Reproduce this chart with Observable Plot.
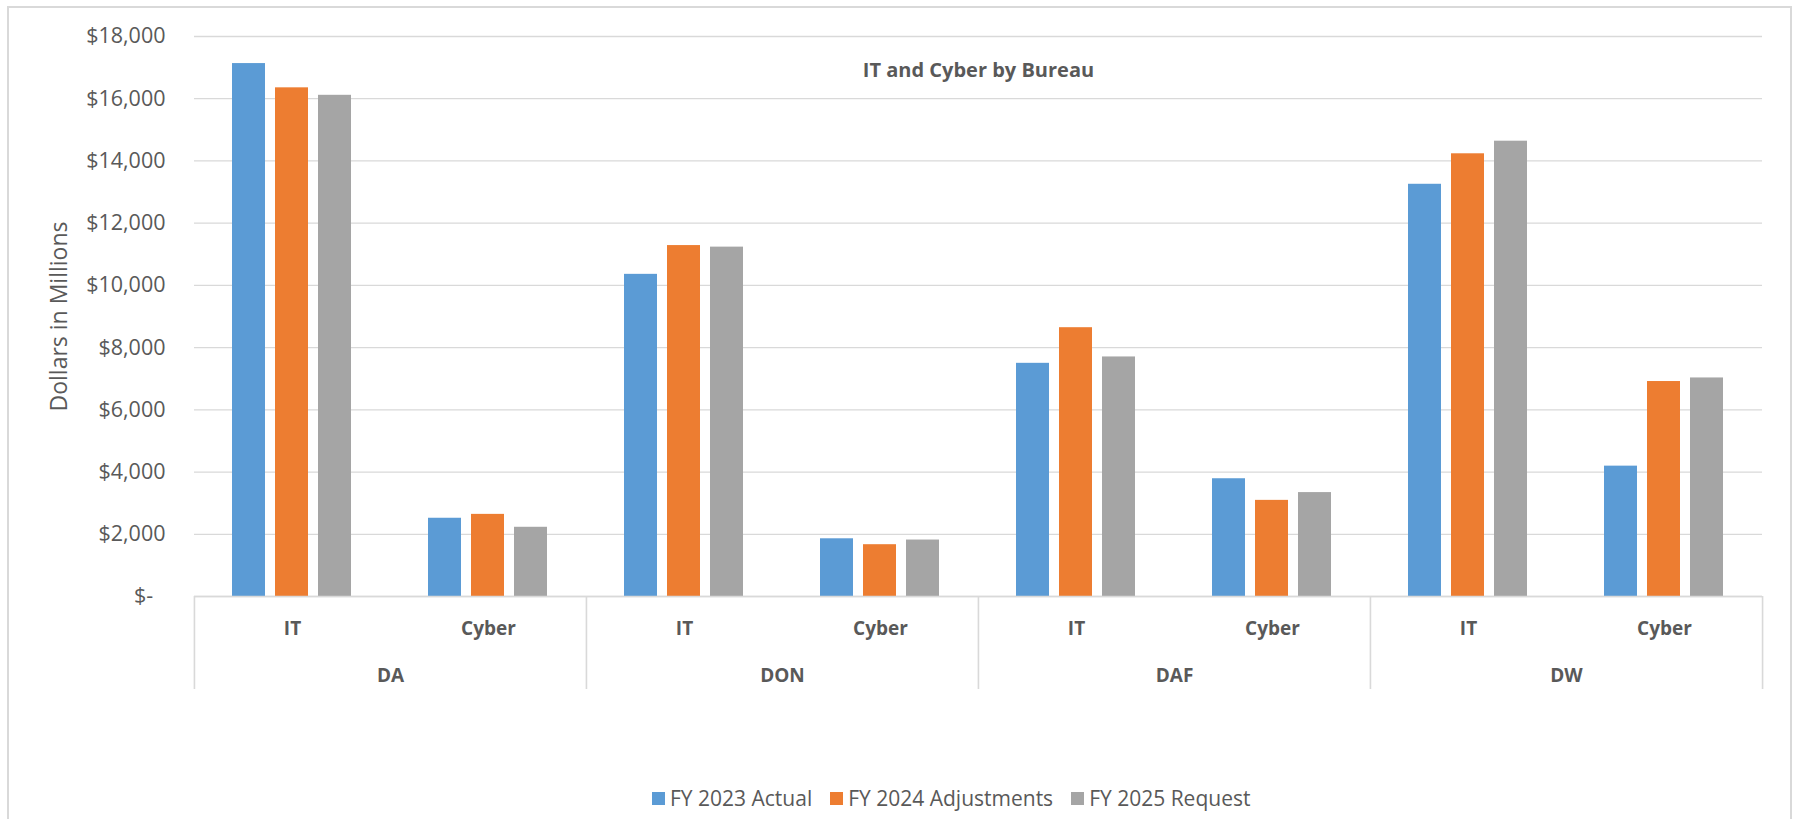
<!DOCTYPE html>
<html>
<head>
<meta charset="utf-8">
<script src="https://cdn.jsdelivr.net/npm/d3@7"></script>
<script src="https://cdn.jsdelivr.net/npm/@observablehq/plot@0.6"></script>
<style>
  html, body { margin: 0; padding: 0; background: #fff; }
  body { width: 1794px; height: 819px; overflow: hidden; position: relative; font-family: "Open Sans", sans-serif; }
  #border { position: absolute; left: 7px; top: 6px; width: 1781px; height: 900px; border: 2px solid #D9D9D9; pointer-events: none; }
  #chart svg { display: block; }
  #legend { display: flex; align-items: center; height: 36px; padding-left: 652px; color: #595959; font-size: 21px; }
  #legend .item { display: flex; align-items: center; margin-right: 18px; }
  #legend .sw { width: 13px; height: 13px; margin-right: 5px; }
</style>
</head>
<body>
<div id="chart"></div>
<div id="legend"></div>
<div id="border"></div>
<script>
// ---- data ----
const bureaus = ["DA", "DON", "DAF", "DW"];
const subs = ["IT", "Cyber"];
const series = ["FY 2023 Actual", "FY 2024 Adjustments", "FY 2025 Request"];
const colors = ["#5B9BD5", "#ED7D31", "#A5A5A5"];
// order: DA IT, DA Cyber, DON IT, DON Cyber, DAF IT, DAF Cyber, DW IT, DW Cyber
const fy2023 = [17130, 2515, 10355, 1855, 7495, 3785, 13250, 4190];
const fy2024 = [16350, 2640, 11280, 1665, 8640, 3090, 14230, 6910];
const fy2025 = [16110, 2225, 11230, 1815, 7700, 3340, 14635, 7025];
const yTicks = [0, 2000, 4000, 6000, 8000, 10000, 12000, 14000, 16000, 18000];
const chartTitle = "IT and Cyber by Bureau";
const yLabel = "Dollars in Millions";

// ---- layout ----
const W = 1794, H = 780;
const mL = 193, mR = 32, mT = 36, mB = 184;
const frameH = H - mT - mB;
const keys = bureaus.flatMap(b => subs.map(s => b + " " + s));
const facetW = (W - mL - mR) / keys.length;
const seriesValues = [fy2023, fy2024, fy2025];

const rows = [];
keys.forEach((k, i) => series.forEach((s, j) =>
  rows.push({key: k, bureau: bureaus[Math.floor(i / 2)], sub: subs[i % 2], series: s, value: seriesValues[j][i]})));
const catRows = keys.map((k, i) => ({key: k, sub: subs[i % 2], bureau: bureaus[Math.floor(i / 2)]}));
const itRows = catRows.filter(d => d.sub === subs[0]);
const lastRow = [catRows[catRows.length - 1]];

const fmt = d3.format(",");
const tickFormat = d => d === 0 ? "$-\u2007" : "$" + fmt(d);
const textColor = "#595959";
const gridColor = "#D9D9D9";

const chart = Plot.plot({
  width: W, height: H,
  marginLeft: mL, marginRight: mR, marginTop: mT, marginBottom: mB,
  style: {fontFamily: "'Open Sans', sans-serif", color: textColor, background: "transparent", overflow: "visible"},
  fx: {domain: keys, padding: 0, axis: null},
  x: {domain: series, paddingInner: 0.2273, paddingOuter: 0.841, axis: null},
  y: {domain: [0, 18000], axis: null},
  color: {domain: series, range: colors},
  marks: [
    Plot.ruleY(yTicks, {stroke: gridColor, strokeWidth: 1.3}),
    Plot.barY(rows, {fx: "key", x: "series", y: "value", fill: "series"}),
    Plot.ruleY([0], {stroke: gridColor, strokeWidth: 1.6}),
    Plot.axisY(yTicks, {tickSize: 0, tickPadding: 29, tickFormat, fontSize: 21.5, label: null, fill: textColor}),
    Plot.text([{key: keys[0], t: yLabel}], {fx: "key", text: "t", frameAnchor: "left", rotate: -90, dx: -135, fontSize: 23, fill: textColor, textAnchor: "middle", lineAnchor: "middle"}),
    Plot.text([{key: keys[4], t: chartTitle}], {fx: "key", text: "t", frameAnchor: "top-left", textAnchor: "middle", lineAnchor: "middle", dy: 34, fontSize: 20, fontWeight: "bold", fill: textColor}),
    Plot.text(catRows, {fx: "key", text: "sub", frameAnchor: "bottom", textAnchor: "middle", lineAnchor: "middle", dy: 32, fontSize: 19, fontWeight: "bold", fill: textColor}),
    Plot.text(itRows, {fx: "key", text: "bureau", frameAnchor: "bottom-right", textAnchor: "middle", lineAnchor: "middle", dy: 79, fontSize: 19, fontWeight: "bold", fill: textColor}),
    Plot.ruleX(itRows, {fx: "key", x: null, insetTop: frameH, insetBottom: -93, dx: -facetW / 2, stroke: gridColor, strokeWidth: 1.6}),
    Plot.ruleX(lastRow, {fx: "key", x: null, insetTop: frameH, insetBottom: -93, dx: facetW / 2, stroke: gridColor, strokeWidth: 1.6})
  ]
});
document.getElementById("chart").appendChild(chart);

// ---- legend ----
const legend = document.getElementById("legend");
series.forEach((s, i) => {
  const item = document.createElement("div");
  item.className = "item";
  const sw = document.createElement("div");
  sw.className = "sw";
  sw.style.background = colors[i];
  const lab = document.createElement("span");
  lab.textContent = s;
  item.appendChild(sw);
  item.appendChild(lab);
  legend.appendChild(item);
});
</script>
</body>
</html>
